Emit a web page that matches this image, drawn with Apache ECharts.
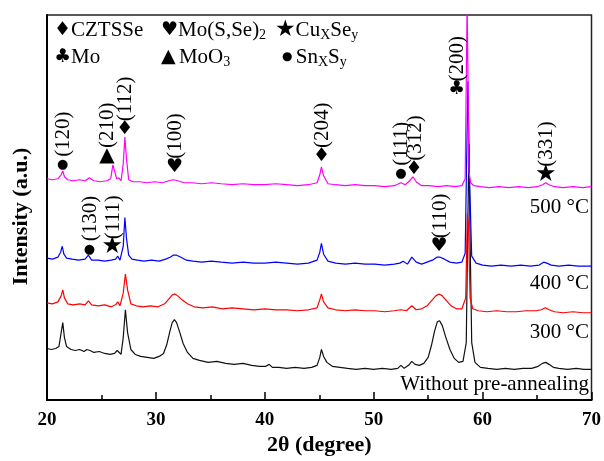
<!DOCTYPE html>
<html>
<head>
<meta charset="utf-8">
<script src="https://cdn.jsdelivr.net/npm/echarts@6/dist/echarts.min.js"></script>
<style>html,body{margin:0;padding:0;background:#fff}#c{width:604px;height:461px}</style>
</head>
<body>
<div id="c"></div>
<script>
// ---- data (intensity in arbitrary offset units) ----
const blackX = [20,20.4,20.8,21.1,21.3,21.45,21.6,21.8,22.2,22.6,23.0,23.4,23.65,23.8,23.95,24.3,24.8,25.3,25.8,26.2,26.45,26.6,26.8,27.0,27.2,27.4,27.7,28.1,28.6,29.2,29.8,30.3,30.7,31.0,31.3,31.5,31.7,31.9,32.2,32.5,32.9,33.4,34.0,34.8,35.6,36.4,37.2,38.0,38.8,39.5,40.1,40.4,40.7,41.3,42.0,42.8,43.6,44.3,44.8,45.05,45.2,45.4,45.7,46.2,46.9,47.6,48.4,49.2,50.0,50.8,51.6,52.2,52.5,52.8,53.2,53.5,53.8,54.2,54.6,55.0,55.3,55.6,55.85,56.05,56.3,56.6,57.0,57.4,57.8,58.2,58.5,58.65,58.75,58.85,59.0,59.3,59.8,60.5,61.3,62.1,62.9,63.7,64.5,65.1,65.5,65.8,66.1,66.5,67.0,67.8,68.6,69.3,70];
const blackY = [52,51,52,54,68,78,63,54,51,50,51,49,51,53,50,48,49,47,46,47,50,48,46,63,91,68,51,46,44,43,42,44,47,56,70,78,81,78,68,57,48,42,40,38,39,37,36,37,35,34,34,36,33,33,32,33,32,33,35,43,51,44,38,34,33,32,31,32,31,32,31,32,35,32,35,39,36,35,37,43,55,70,79,80,75,64,51,42,38,39,58,183,258,163,58,38,33,32,31,32,31,32,32,34,37,38,36,33,32,31,32,31,31];

const redX = [20,20.5,21.0,21.3,21.45,21.6,21.9,22.4,23.0,23.5,23.8,24.1,24.7,25.3,25.9,26.3,26.5,26.7,27.0,27.2,27.4,27.7,28.2,28.8,29.5,30.2,30.8,31.2,31.5,31.75,32.0,32.4,32.9,33.5,34.3,35.2,36.1,37.0,38.0,39.0,40.0,41.0,42.0,43.0,44.0,44.8,45.05,45.2,45.4,45.8,46.5,47.4,48.3,49.2,50.1,51.0,51.9,52.5,53.0,53.5,53.9,54.4,54.9,55.3,55.7,56.0,56.3,56.7,57.1,57.6,58.1,58.45,58.6,58.7,58.85,59.1,59.6,60.4,61.3,62.2,63.1,64.0,64.9,65.4,65.75,66.1,66.6,67.4,68.3,69.2,70];
const redY = [98,97,99,105,111,103,97,96,97,96,100,96,95,96,94,96,99,95,108,127,111,97,95,94,95,94,97,102,106,107,105,101,97,94,93,94,92,93,92,91,92,91,91,90,91,93,101,107,99,93,91,90,91,90,90,89,90,91,90,95,91,92,95,100,105,107,105,100,95,92,92,103,188,178,103,92,90,89,90,89,89,90,90,91,93,91,89,88,89,88,88];

const blueX = [20,20.5,21.0,21.25,21.4,21.55,21.8,22.3,22.9,23.5,23.8,24.1,24.7,25.3,25.9,26.3,26.5,26.7,27.0,27.15,27.3,27.5,27.8,28.3,28.9,29.6,30.3,30.9,31.3,31.6,31.9,32.3,32.8,33.4,34.2,35.1,36.0,37.0,38.0,39.0,40.0,41.0,42.0,43.0,44.0,44.8,45.05,45.2,45.4,45.8,46.5,47.4,48.3,49.2,50.1,51.0,51.9,52.4,52.7,53.1,53.5,53.9,54.4,54.9,55.4,55.8,56.1,56.5,57.0,57.6,58.1,58.4,58.55,58.65,58.8,59.0,59.4,60.0,60.8,61.7,62.6,63.5,64.4,65.2,65.6,65.9,66.3,67.0,67.9,68.8,69.5,70];
const blueY = [143,142,144,149,155,147,143,142,141,142,146,141,141,140,141,142,145,141,155,184,163,146,142,141,140,141,140,142,144,146,146,144,141,140,139,140,139,138,139,138,138,139,138,137,138,141,149,158,147,140,138,137,138,137,137,136,137,138,140,137,144,139,137,139,141,144,144,142,139,138,139,148,253,321,223,145,138,136,135,136,135,136,135,136,139,138,136,135,136,135,135,135];

const magentaX = [20,20.5,21.0,21.3,21.45,21.6,21.9,22.4,23.0,23.5,23.9,24.3,24.9,25.5,25.85,26.05,26.2,26.4,26.6,26.8,27.0,27.15,27.3,27.5,27.9,28.5,29.2,29.9,30.6,31.2,31.6,32.0,32.6,33.3,34.2,35.1,36.0,37.0,38.0,39.0,40.0,41.0,42.0,43.0,44.0,44.8,45.05,45.2,45.4,45.8,46.5,47.4,48.3,49.2,50.1,51.0,51.9,52.5,52.9,53.3,53.6,53.9,54.4,55.1,55.9,56.7,57.5,58.1,58.4,58.58,58.75,58.9,59.2,59.8,60.6,61.5,62.4,63.3,64.2,65.0,65.5,65.8,66.1,66.6,67.4,68.3,69.2,70];
const magentaY = [223,222,223,227,231,225,222,221,222,221,224,221,220,221,223,237,235,223,224,221,238,265,243,222,220,220,219,220,219,221,222,221,219,219,218,219,218,217,218,217,217,218,217,216,217,219,227,235,226,218,217,216,217,216,216,215,216,219,217,221,225,220,216,216,215,216,215,216,223,400,230,219,216,215,214,215,214,215,214,215,217,219,217,215,214,215,214,215];

// peak annotations: position (2θ, intensity), symbol, Miller index
const annX = [21.45,25.5,27.15,31.7,45.2,52.5,53.7,57.6,65.8,23.9,26.0,56.0];
const annY = [237,246,273,235,246,228,233,313,227,152,154,155];
const annSym = ['●','▲','♦','♥','♦','●','♦','♣','★','●','★','♥'];
const annLabel = ['(120)','(210)','(112)','(100)','(204)','(111)','(312)','(200)','(331)','(130)','(111)','(110)'];

const xTicks = [20,30,40,50,60,70];
const sampleLabels = ['500 °C','400 °C','300 °C','Without pre-annealing'];

const serif = "'Liberation Serif','Times New Roman',serif";
const sym = "'DejaVu Sans',sans-serif";
const pair = (xs, ys) => xs.map((x, i) => [x, ys[i]]);

const chart = echarts.init(document.getElementById('c'), null, {renderer: 'canvas'});

const legendRich = {
  s: {fontFamily: sym, fontSize: 19, lineHeight: 25, color: '#000'},
  st: {fontFamily: sym, fontSize: 23, lineHeight: 25, color: '#000'},
  n: {fontFamily: serif, fontSize: 21, lineHeight: 25, color: '#000'},
  b: {fontFamily: sym, fontSize: 12, lineHeight: 25, color: '#000'},
  sub: {fontFamily: serif, fontSize: 14, lineHeight: 14, padding: [11, 0, 0, 0], color: '#000'}
};
function legendText(x, y, text) {
  return {type: 'text', x: x, y: y, style: {text: text, rich: legendRich, verticalAlign: 'middle', align: 'left'}};
}
function sampleText(y, text) {
  return {type: 'text', x: 589, y: y, style: {text: text, fontFamily: serif, fontSize: 21, fill: '#000', align: 'right', verticalAlign: 'middle'}};
}

const option = {
  animation: false,
  backgroundColor: '#fff',
  grid: {left: 47, right: 12, top: 15, bottom: 58, show: true, borderColor: '#222', borderWidth: 1.5, containLabel: false},
  xAxis: {
    type: 'value', min: xTicks[0], max: xTicks[xTicks.length - 1], interval: 10,
    name: '2θ (degree)', nameLocation: 'middle', nameGap: 31,
    nameTextStyle: {fontFamily: serif, fontSize: 22, fontWeight: 'bold', color: '#000'},
    axisLine: {lineStyle: {color: '#000', width: 2}},
    axisTick: {inside: true, length: 8, lineStyle: {color: '#000', width: 1.5}},
    minorTick: {show: true, splitNumber: 2, length: 5, lineStyle: {color: '#000', width: 1.5}},
    splitLine: {show: false},
    axisLabel: {margin: 10, fontFamily: serif, fontSize: 19, fontWeight: 'bold', color: '#000'}
  },
  yAxis: {
    type: 'value', min: 0, max: 388,
    name: 'Intensity (a.u.)', nameLocation: 'middle', nameGap: 15,
    nameTextStyle: {fontFamily: serif, fontSize: 22, fontWeight: 'bold', color: '#000', padding: [0, 18, 0, 0]},
    axisLine: {show: true, lineStyle: {color: '#000', width: 2}},
    axisTick: {show: false}, axisLabel: {show: false}, splitLine: {show: false}
  },
  series: [
    {type: 'line', data: pair(blackX, blackY), showSymbol: false, lineStyle: {color: '#111', width: 1.2}, clip: true},
    {type: 'line', data: pair(redX, redY), showSymbol: false, lineStyle: {color: '#ff0000', width: 1.2}, clip: true},
    {type: 'line', data: pair(blueX, blueY), showSymbol: false, lineStyle: {color: '#0000ff', width: 1.2}, clip: true},
    {type: 'line', data: pair(magentaX, magentaY), showSymbol: false, lineStyle: {color: '#ff00ff', width: 1.2}, clip: true},
    {
      type: 'custom', clip: false, z: 10,
      data: pair(annX, annY),
      renderItem: function (params, api) {
        const i = params.dataIndex;
        const p = api.coord([api.value(0), api.value(1)]);
        const s = annSym[i];
        const fs = s === '●' ? 13 : (s === '★' ? 24 : (s === '▲' ? 20 : 19));
        return {type: 'group', children: [
          {type: 'text', x: p[0], y: p[1], style: {text: s, fontFamily: sym, fontSize: fs, fill: '#000', align: 'center', verticalAlign: 'middle'}},
          {type: 'text', x: p[0] + 1, y: p[1] - 8, rotation: Math.PI / 2,
           style: {text: annLabel[i], fontFamily: serif, fontSize: 21, fill: '#000', align: 'left', verticalAlign: 'middle'}}
        ]};
      }
    }
  ],
  graphic: [
    legendText(54, 30, '{s|♦}{n|CZTSSe}'),
    legendText(161, 30, '{s|♥}{n|Mo(S,Se)}{sub|2}'),
    legendText(275, 30, '{st|★}{n|Cu}{sub|X}{n|Se}{sub|y}'),
    legendText(54, 57, '{s|♣}{n|Mo}'),
    legendText(161, 57, '{s|▲} {n|MoO}{sub|3}'),
    legendText(282, 57, '{b|●} {n|Sn}{sub|X}{n|S}{sub|y}'),
    sampleText(207, sampleLabels[0]),
    sampleText(283, sampleLabels[1]),
    sampleText(332, sampleLabels[2]),
    sampleText(384, sampleLabels[3])
  ]
};
chart.setOption(option);
</script>
</body>
</html>
